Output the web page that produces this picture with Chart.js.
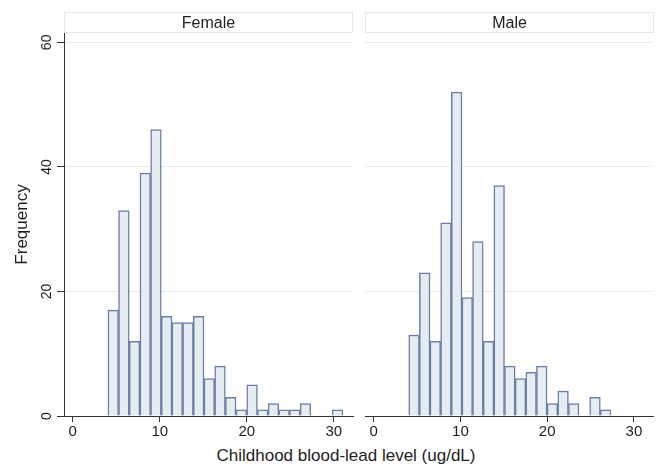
<!DOCTYPE html>
<html>
<head>
<meta charset="utf-8">
<script src="https://cdn.jsdelivr.net/npm/chart.js@4/dist/chart.umd.min.js"></script>
<style>
  html, body { margin: 0; padding: 0; background: #fff; }
  #wrap { position: relative; width: 659px; height: 468px; font-family: "Liberation Sans", Arial, sans-serif; color: #222; }
  .panel { position: absolute; top: 0; height: 445px; }
  .head { position: absolute; top: 12px; height: 19px; border: 1px solid #dfe7ef; font-size: 16px; line-height: 19px; text-align: center; box-sizing: content-box; }
  #xtitle { position: absolute; top: 446px; left: 64px; width: 564px; text-align: center; font-size: 17px; line-height: 20px; }
</style>
</head>
<body>
<div id="wrap">
  <div class="panel" style="left:0;width:356px"><canvas id="chart-female"></canvas></div>
  <div class="panel" style="left:356px;width:303px"><canvas id="chart-male"></canvas></div>
  <div class="head" style="left:64px;width:287px">Female</div>
  <div class="head" style="left:365px;width:287px">Male</div>
  <div id="xtitle">Childhood blood-lead level (ug/dL)</div>
</div>
<script>
// Histogram bin edges (ug/dL), shared by both panels
const binEdges = [4.04, 5.27, 6.49, 7.72, 8.95, 10.18, 11.40, 12.63, 13.86, 15.08, 16.31,
  17.54, 18.76, 19.99, 21.22, 22.45, 23.67, 24.90, 26.13, 27.35, 28.58, 29.81, 31.04];

// Frequencies per bin
const femaleCounts = [17, 33, 12, 39, 46, 16, 15, 15, 16, 6, 8, 3, 1, 5, 1, 2, 1, 1, 2, 0, 0, 1];
const maleCounts = [13, 23, 12, 31, 52, 19, 28, 12, 37, 8, 6, 7, 8, 2, 4, 2, 0, 3, 1, 0, 0, 0];

const xTicks = [0, 10, 20, 30];
const yTicks = [0, 20, 40, 60];

const COLORS = {
  fill: '#e6edf1',
  border: '#6c7ea6',
  grid: '#e4ecf1',
  axis: '#333333',
  text: '#1e1e1e'
};
const FONT = 'Liberation Sans, Arial, sans-serif';

function histData(counts) {
  return counts.map((c, i) => ({
    x: (binEdges[i] + binEdges[i + 1]) / 2,
    y: c > 0 ? c : null
  }));
}

// Draws the y tick labels rotated, as in the reference
const rotatedYLabels = {
  id: 'rotatedYLabels',
  afterDraw(chart) {
    const y = chart.scales.y;
    const ctx = chart.ctx;
    ctx.save();
    ctx.fillStyle = COLORS.text;
    ctx.font = '14px ' + FONT;
    ctx.textAlign = 'center';
    ctx.textBaseline = 'middle';
    for (const v of yTicks) {
      ctx.save();
      ctx.translate(47, y.getPixelForValue(v));
      ctx.rotate(-Math.PI / 2);
      ctx.fillText(String(v), 0, 0);
      ctx.restore();
    }
    ctx.restore();
  }
};

function makePanel(id, counts, withAxis) {
  const canvas = document.getElementById(id);
  return new Chart(canvas, {
    type: 'bar',
    data: {
      datasets: [{
        data: histData(counts),
        backgroundColor: COLORS.fill,
        borderColor: COLORS.border,
        borderWidth: 1.5,
        barPercentage: 1,
        categoryPercentage: 1
      }]
    },
    options: {
      responsive: true,
      maintainAspectRatio: false,
      animation: false,
      layout: { padding: withAxis ? { top: 33, right: 3, left: 0, bottom: 0 } : { top: 33, right: 6, left: 9, bottom: 0 } },
      plugins: { legend: { display: false }, tooltip: { enabled: false } },
      scales: {
        x: {
          type: 'linear',
          min: -1,
          max: 32.2,
          offset: false,
          afterBuildTicks: s => { s.ticks = xTicks.map(v => ({ value: v })); },
          afterFit: s => { s.height = 29; },
          ticks: { color: COLORS.text, font: { family: FONT, size: 15 }, padding: 1 },
          grid: { offset: false, drawOnChartArea: false, drawTicks: true, tickLength: 6, tickColor: COLORS.axis },
          border: { color: COLORS.axis, width: 1 }
        },
        y: {
          min: 0,
          max: 61.5,
          afterBuildTicks: s => { s.ticks = yTicks.map(v => ({ value: v })); },
          afterFit: s => { s.width = withAxis ? 64 : 0; },
          ticks: { display: false },
          grid: {
            color: ctx => ctx.tick && ctx.tick.value === 0 ? 'rgba(0,0,0,0)' : COLORS.grid,
            lineWidth: 1,
            drawTicks: withAxis,
            tickLength: 7,
            tickColor: COLORS.axis
          },
          border: { display: withAxis, color: COLORS.axis, width: 1 },
          title: {
            display: withAxis,
            text: 'Frequency',
            color: COLORS.text,
            font: { family: FONT, size: 17 },
            padding: { top: 12, bottom: 0 }
          }
        }
      }
    },
    plugins: withAxis ? [rotatedYLabels] : []
  });
}

makePanel('chart-female', femaleCounts, true);
makePanel('chart-male', maleCounts, false);
</script>
</body>
</html>
